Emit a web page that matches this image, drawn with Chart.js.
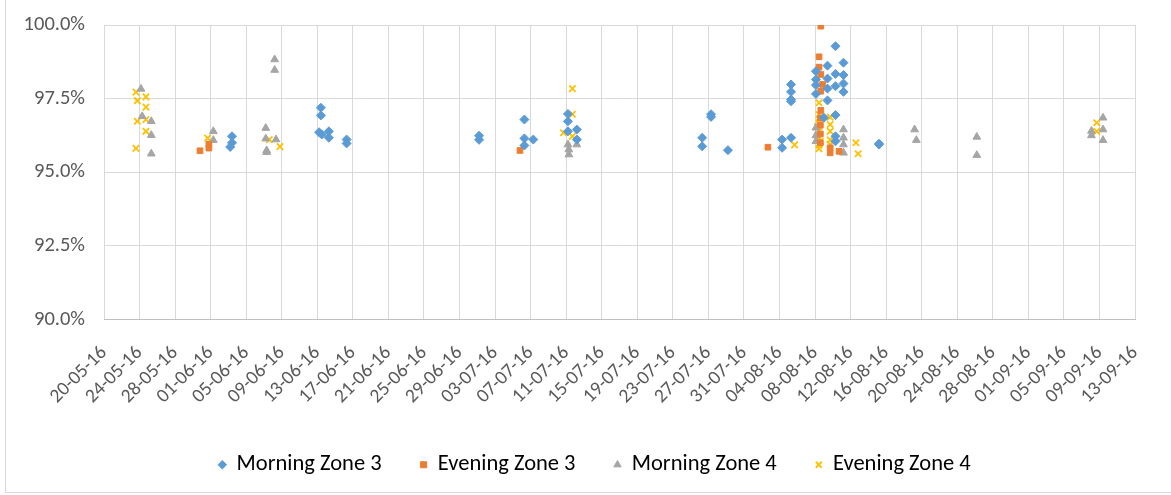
<!DOCTYPE html>
<html>
<head>
<meta charset="utf-8">
<script src="https://cdn.jsdelivr.net/npm/chart.js@4/dist/chart.umd.min.js"></script>
<style>
  html, body { margin: 0; padding: 0; background: #fff; }
  #frame { position: absolute; left: 5px; top: -1px; width: 1200px; height: 492px; border: 1px solid #d9d9d9; }
  #wrap { position: absolute; left: 0; top: 0; width: 1171px; height: 495px; }
</style>
</head>
<body>
<div id="frame"></div>
<div id="wrap"><canvas id="scatterChart" width="1171" height="495"></canvas></div>
<script>
// x values are Excel date serials (42510 = 20-05-16)
const axisStart = 42510;
const axisEnd = 42626;

const morningZone3Dates = [42524.4, 42524.4, 42524.2, 42534.4, 42534.4, 42534.2, 42534.5, 42535.3, 42535.3, 42537.3, 42537.3,
    42552.2, 42552.2, 42557.3, 42557.3, 42557.3, 42558.3, 42562.2, 42562.2, 42562.2, 42563.2, 42563.2,
    42578.3, 42578.3, 42577.3, 42577.3, 42580.2, 42586.3, 42586.3, 42587.3, 42587.3, 42587.3, 42587.3, 42587.3,
    42590.1, 42590.1, 42590.1, 42590.1, 42591.4, 42591.4, 42591.4, 42591.4, 42592.3, 42592.3, 42592.3, 42592.3,
    42592.3, 42592.3, 42593.2, 42593.2, 42593.2, 42593.2, 42597.2, 42597.2, 42591.0];
const morningZone3Values = [96.22, 96.00, 95.86, 97.19, 96.93, 96.36, 96.28, 96.39, 96.17, 96.11, 95.98,
    96.24, 96.10, 96.79, 96.15, 95.91, 96.11, 96.98, 96.73, 96.39, 96.45, 96.11,
    96.97, 96.88, 96.17, 95.88, 95.75, 96.11, 95.83, 96.17, 97.98, 97.73, 97.47, 97.41,
    98.43, 98.15, 97.96, 97.66, 98.62, 98.18, 97.84, 97.44, 99.28, 98.34, 97.92, 96.94,
    96.22, 96.05, 98.72, 98.30, 98.01, 97.73, 95.97, 95.94, 96.85];

const eveningZone3Dates = [42520.8, 42521.8, 42521.8, 42556.8, 42584.7, 42590.65, 42590.45, 42590.45, 42590.65, 42590.85,
    42590.65, 42590.65, 42590.6, 42590.6, 42590.6, 42590.6, 42591.7, 42591.7, 42592.7];
const eveningZone3Values = [95.73, 95.95, 95.82, 95.74, 95.85, 99.96, 98.92, 98.57, 98.32, 97.98,
    97.75, 97.10, 96.85, 96.60, 96.30, 96.00, 95.83, 95.66, 95.71];

const morningZone4Dates = [42514.16, 42514.3, 42515.32, 42515.32, 42515.32, 42522.3, 42522.3, 42528.2, 42528.2, 42528.3,
    42528.3, 42529.2, 42529.2, 42529.35, 42562.2, 42562.3, 42562.3, 42563.2, 42590.1, 42590.1,
    42590.1, 42593.2, 42593.2, 42593.2, 42593.2, 42601.2, 42601.4, 42608.2, 42608.2, 42621.1,
    42621.1, 42622.4, 42622.4, 42622.4];
const morningZone4Values = [97.83, 96.90, 96.73, 96.26, 95.63, 96.39, 96.09, 96.50, 96.14, 95.74,
    95.68, 98.83, 98.47, 96.11, 95.94, 95.77, 95.60, 95.94, 96.51, 96.05,
    96.25, 96.45, 96.17, 95.94, 95.66, 96.45, 96.09, 96.20, 95.58, 96.40,
    96.25, 96.85, 96.45, 96.09];

const eveningZone4Dates = [42513.6, 42513.75, 42514.72, 42514.72, 42513.75, 42514.72, 42514.72, 42513.6, 42521.66, 42528.6,
    42529.8, 42561.7, 42562.7, 42562.7, 42562.7, 42587.7, 42590.45, 42590.45, 42590.45, 42590.45,
    42590.45, 42590.45, 42590.45, 42590.3, 42590.6, 42591.7, 42591.7, 42591.7, 42591.7, 42591.7,
    42594.6, 42594.85, 42621.7, 42621.7, 42590.45, 42590.3];
const eveningZone4Values = [97.72, 97.43, 97.56, 97.21, 96.73, 96.79, 96.39, 95.81, 96.16, 96.11,
    95.87, 96.34, 97.84, 96.97, 96.22, 95.93, 97.36, 96.96, 96.68, 96.39,
    96.15, 95.92, 95.80, 96.55, 96.05, 96.87, 96.62, 96.39, 96.10, 95.95,
    96.00, 95.63, 96.68, 96.39, 96.80, 96.25];

const yTicks = [90, 92.5, 95, 97.5, 100];

function toPoints(dates, values) {
    return dates.map((d, i) => ({ x: d, y: values[i] }));
}

function serialToLabel(v) {
    const d = new Date(Date.UTC(1899, 11, 30) + Math.round(v) * 86400000);
    const dd = String(d.getUTCDate()).padStart(2, '0');
    const mm = String(d.getUTCMonth() + 1).padStart(2, '0');
    const yy = String(d.getUTCFullYear()).slice(2);
    return dd + '-' + mm + '-' + yy;
}

const fontFamily = 'Calibri, Carlito, "Liberation Sans", sans-serif';

// the original legend sits a little right of the plot centre
const legendShift = {
    id: 'legendShift',
    afterLayout(chart) {
        chart.legend.left += 25;
        chart.legend.right += 25;
    }
};

const ctx = document.getElementById('scatterChart').getContext('2d');
new Chart(ctx, {
    type: 'scatter',
    plugins: [legendShift],
    data: {
        datasets: [{
            label: 'Morning Zone 3',
            data: toPoints(morningZone3Dates, morningZone3Values),
            pointStyle: 'rectRot',
            pointRadius: 4.5,
            backgroundColor: '#5B9BD5',
            borderColor: '#5B9BD5',
            borderWidth: 1
        },
        {
            label: 'Evening Zone 3',
            data: toPoints(eveningZone3Dates, eveningZone3Values),
            pointStyle: 'rect',
            pointRadius: 4,
            backgroundColor: '#ED7D31',
            borderColor: '#ED7D31',
            borderWidth: 1
        },
        {
            label: 'Morning Zone 4',
            data: toPoints(morningZone4Dates, morningZone4Values),
            pointStyle: 'triangle',
            pointRadius: 4.5,
            backgroundColor: '#A5A5A5',
            borderColor: '#A5A5A5',
            borderWidth: 1
        },
        {
            label: 'Evening Zone 4',
            data: toPoints(eveningZone4Dates, eveningZone4Values),
            pointStyle: 'crossRot',
            pointRadius: 4.5,
            backgroundColor: '#FFC000',
            borderColor: '#FFC000',
            borderWidth: 1.8
        }]
    },
    options: {
        responsive: false,
        animation: false,
        layout: { padding: { left: 5, right: 36, top: 25, bottom: 9 } },
        plugins: {
            tooltip: { enabled: false },
            legend: {
                position: 'bottom',
                labels: {
                    usePointStyle: true,
                    boxWidth: 6,
                    boxHeight: 6,
                    padding: 39,
                    color: '#000000',
                    font: { family: fontFamily, size: 22.5 }
                }
            }
        },
        scales: {
            x: {
                type: 'linear',
                min: axisStart,
                max: axisEnd,
                afterBuildTicks: (scale) => {
                    const t = [];
                    for (let v = axisStart; v <= axisEnd; v += 4) t.push({ value: v });
                    scale.ticks = t;
                },
                afterFit: (scale) => {
                    scale.height = 95;
                    scale.paddingLeft = 0;
                    scale.paddingRight = 0;
                },
                grid: { color: '#D9D9D9', lineWidth: 1, drawTicks: false },
                border: { color: '#BFBFBF' },
                ticks: {
                    autoSkip: false,
                    minRotation: 45,
                    maxRotation: 45,
                    padding: 22,
                    color: '#595959',
                    font: { family: fontFamily, size: 19.5 },
                    callback: (v) => serialToLabel(v)
                }
            },
            y: {
                min: 90,
                max: 100,
                afterBuildTicks: (scale) => { scale.ticks = yTicks.map(v => ({ value: v })); },
                afterFit: (scale) => {
                    scale.width = 99;
                    scale.paddingTop = 0;
                    scale.paddingBottom = 0;
                },
                grid: { color: '#D9D9D9', lineWidth: 1, drawTicks: false },
                border: { display: false },
                ticks: {
                    padding: 19,
                    color: '#595959',
                    font: { family: fontFamily, size: 20.5 },
                    callback: (v) => v.toFixed(1) + '%'
                }
            }
        }
    }
});
</script>
</body>
</html>
